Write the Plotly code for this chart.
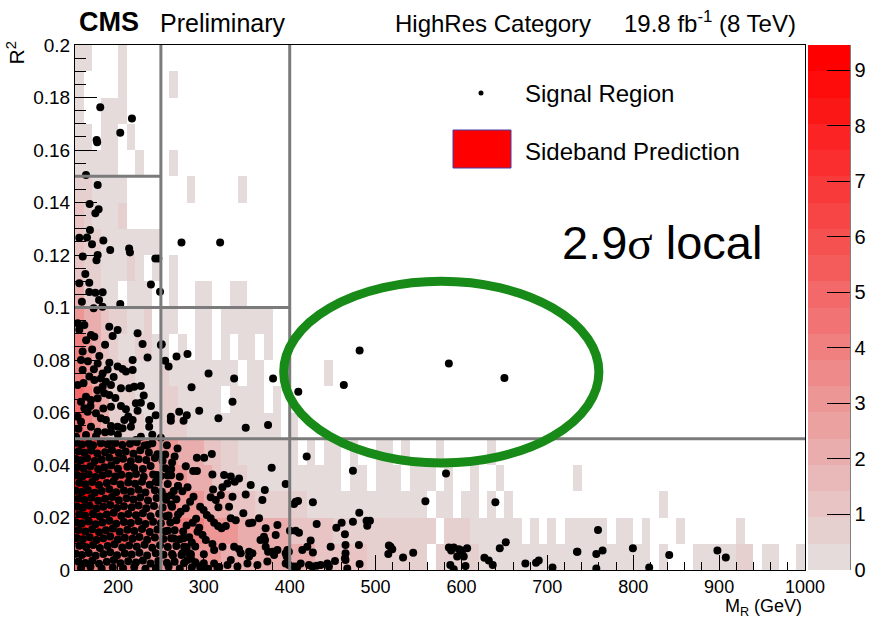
import plotly.graph_objects as go

# ---------------- data ----------------
mr_bin_edges = list(range(150, 1001, 10))          # GeV, 10 GeV bins
r2_bin_edges = [round(0.01 * k, 2) for k in range(21)]

# Sideband prediction per bin, one string per R2 row (top row 0.19-0.20 first).
# '.' = empty bin, 'a' ~0.3, 'b' ~0.7, digits = bin content
sideband_rows_top_down = [
    "aa...a.... .......... .......... .......... .......... .......... .......... .......... .....",
    "a....a.... .a........",
    "a..aaa....",
    "aa.aa.a...",
    "aaaaa..a.. .a........",
    "bbaaaa.... ...a.....a",
    "1baaab....",
    "1bbaaaaaaa",
    "1bbaaaba.a .a........",
    "2bbaa.aaa. .a..aa..aa",
    "3221bbaab. aa..aa.aaa aaa.......",
    "4321baabba a.a.aa.a.a a.a.......",
    "4321bbbaaa baaaaaaaa. aa..a....a",
    "5432bbbaaa bbaaaaa.aa aa.a......",
    "5432bbbbaa bbbaaaaaaa aaaa.a....",
    "8876655443 3322211bba aaaaaa.a.a a.a..aa.a. ..a.....a.",
    "9887665443 3332221bbb aaaaaaaaaa a.aa.aaa.a aa.a..a..a ........a.",
    "9987765543 4433322211 1bbbbbbaaa aaaaaaaaaa a.aa.aa.a. a......... ........a.",
    "9887766554 4444433332 2222211111 bbbbbbbbbb bb.bbbaaaa aa.a.a.aaa aa.aa.a... a......a.. .....",
    "5544444333 3333333222 2222222211 1111bbbbbb b.bbbbbaaa aaaaaaaaaa aaaaaaa.a. ..aaaaabb. aa..a",
]
level_values = {".": None, "a": 0.3, "b": 0.7, "1": 1.0, "2": 2.0, "3": 3.0, "4": 4.0,
                "5": 5.0, "6": 6.0, "7": 7.0, "8": 8.0, "9": 9.0}

# Signal region events (M_R [GeV], R2)
signal_upper = [
    (179.4, 0.1763), (216.3, 0.172), (202.7, 0.1666), (175.2, 0.1638), (175.8, 0.1630),
    (162.8, 0.1505), (176.4, 0.1467), (167, 0.1394), (177.5, 0.1374), (173.7, 0.1359),
    (167.4, 0.1295), (155, 0.1266), (164, 0.1267), (169.8, 0.1241), (183, 0.1255),
    (191, 0.1219), (213, 0.1225), (214, 0.121), (159, 0.1194), (176.4, 0.12), (175, 0.118),
    (243.5, 0.1187), (247, 0.1187), (274, 0.1248), (319, 0.1248), (162, 0.1128),
    (155, 0.1092), (166.6, 0.1094), (166.6, 0.1059), (173.7, 0.1056), (182.2, 0.1058),
    (238.4, 0.1088), (249, 0.106), (158, 0.1022), (178, 0.1029), (182, 0.1003),
    (202.7, 0.1013), (171.7, 0.0997),
]
signal_mid_left = [
    (153.1, 0.094), (160.9, 0.0933), (168.6, 0.0895), (172.5, 0.0889), (189.9, 0.0927),
    (199.6, 0.0914), (193.8, 0.0891), (222.9, 0.0902), (228.7, 0.0861), (250, 0.0857),
    (234.5, 0.081), (217.1, 0.08), (205.4, 0.0766), (199.6, 0.0775), (209.3, 0.0756),
    (217.1, 0.0762), (188, 0.0764), (178.3, 0.0815), (158.9, 0.0832), (157, 0.08),
    (158.9, 0.0762), (166.7, 0.0737), (172.5, 0.0724), (180.2, 0.073), (186, 0.0717),
    (182.2, 0.0749), (176.4, 0.0787), (182.2, 0.0698), (191.9, 0.0705), (203.5, 0.0692),
    (213.2, 0.0692), (219, 0.0698), (226.7, 0.0701), (153.1, 0.0705), (162.8, 0.066),
    (157, 0.0641), (168.6, 0.0648), (176.4, 0.0654), (184.1, 0.0673), (189.9, 0.0667),
    (191.9, 0.0622), (203.5, 0.0625), (209.3, 0.0612), (220.9, 0.0635), (222.9, 0.0607),
    (226.7, 0.0637), (238.4, 0.0625), (236.4, 0.0571), (236.4, 0.0546), (217.1, 0.0571),
    (207.4, 0.0571), (199.6, 0.0546), (191.9, 0.0549), (186, 0.0571), (180.2, 0.0578),
    (174.4, 0.0597), (164.7, 0.0603), (160.9, 0.0616), (153.1, 0.0584), (157, 0.0565),
    (168.6, 0.0546), (176.4, 0.0527), (151.2, 0.0508), (162.8, 0.0514), (174.4, 0.051),
    (191.9, 0.0527), (205.4, 0.054), (215.1, 0.0546), (226.7, 0.0508), (220.9, 0.0495),
    (234.5, 0.0476), (191.9, 0.0489), (180.2, 0.0483), (168.6, 0.047),
    (155, 0.0915), (163, 0.0875), (170, 0.084), (185, 0.0858), (165, 0.0795),
    (190, 0.079), (172, 0.0765), (160, 0.0712), (195, 0.0735), (176, 0.0685),
    (168, 0.0625), (183, 0.0615), (197, 0.0655), (154, 0.0538), (185, 0.0525),
    (212, 0.0585), (230, 0.0665), (244, 0.059), (200, 0.0515), (240, 0.0515),
]
signal_mid_right = [
    (251, 0.086), (255, 0.0797), (259, 0.0775), (268.2, 0.0813), (281, 0.0823),
    (305.5, 0.0749), (335.3, 0.073), (380.6, 0.073), (285.7, 0.0696), (333.4, 0.0641),
    (294.6, 0.0607), (271.3, 0.0603), (280.2, 0.059), (261.6, 0.0584), (261.6, 0.0569),
    (276.4, 0.0569), (317, 0.0578), (348.8, 0.0542), (374.8, 0.0552), (250, 0.0504),
]
signal_ellipse = [(481.4, 0.0836), (585.3, 0.0787), (650, 0.0731), (463, 0.0705), (410, 0.0679)]

signal_dense_rows = [
    ([152, 158, 166, 171, 180, 188, 197, 205, 214, 222, 231, 240],
     [.0485, .0478, .0482, .0475, .0488, .0479, .0484, .0476, .0481, .0487, .0474, .0483]),
    ([154, 161, 169, 176, 185, 193, 201, 209, 218, 226, 236, 246, 255],
     [.0452, .0447, .0455, .0444, .0449, .0457, .0446, .0451, .0443, .0456, .0448, .0441, .0440]),
    ([151, 157, 164, 173, 181, 190, 198, 206, 215, 224, 233, 243, 252, 263],
     [.0423, .0418, .0426, .0415, .0421, .0428, .0417, .0424, .0414, .0422, .0419, .0427, .0416, .0410]),
    ([153, 160, 168, 177, 184, 192, 200, 211, 219, 229, 238, 255],
     [.0392, .0387, .0395, .0384, .0391, .0398, .0386, .0393, .0389, .0385, .0396, .0388]),
    ([152, 159, 166, 174, 182, 189, 197, 204, 213, 221, 230, 241, 250, 258, 262],
     [.0362, .0357, .0365, .0354, .0361, .0368, .0356, .0363, .0359, .0366, .0355, .0364, .0358, .0360, .0361]),
    ([155, 162, 170, 178, 187, 195, 203, 212, 220, 228, 237, 247, 258, 270],
     [.0332, .0327, .0335, .0324, .0331, .0338, .0326, .0333, .0329, .0336, .0325, .0334, .0328, .0320]),
    ([151, 158, 165, 173, 181, 190, 198, 207, 215, 224, 232, 243, 251, 265, 275],
     [.0302, .0297, .0305, .0294, .0301, .0308, .0296, .0303, .0299, .0306, .0295, .0304, .0298, .0301, .0300]),
    ([154, 161, 169, 177, 185, 193, 201, 210, 218, 226, 235, 245, 255, 256, 268],
     [.0272, .0267, .0275, .0264, .0271, .0278, .0266, .0273, .0269, .0276, .0265, .0274, .0280, .0268, .0270]),
    ([152, 159, 167, 175, 183, 191, 199, 207, 216, 224, 233, 242, 252, 262, 263],
     [.0242, .0237, .0245, .0234, .0241, .0248, .0236, .0243, .0239, .0246, .0235, .0244, .0238, .0250, .0241]),
    ([155, 162, 171, 179, 187, 195, 204, 212, 221, 229, 238, 248, 256, 259, 270],
     [.0212, .0207, .0215, .0204, .0211, .0218, .0206, .0213, .0209, .0216, .0205, .0214, .0205, .0208, .0211]),
    ([151, 158, 166, 174, 182, 190, 198, 207, 215, 224, 232, 241, 250, 261, 268, 287, 280],
     [.0182, .0177, .0185, .0174, .0181, .0188, .0176, .0183, .0179, .0186, .0175, .0184, .0178, .0181, .0190, .0180, .0170]),
    ([154, 162, 170, 178, 186, 194, 202, 211, 219, 228, 237, 246, 255, 258, 266, 276],
     [.0152, .0147, .0155, .0144, .0151, .0158, .0146, .0153, .0149, .0156, .0145, .0154, .0148, .0150, .0151, .0147]),
    ([152, 159, 167, 175, 183, 191, 200, 208, 217, 225, 234, 243, 253, 262, 265, 272, 283],
     [.0122, .0117, .0125, .0114, .0121, .0128, .0116, .0123, .0119, .0126, .0115, .0124, .0118, .0121, .0120, .0117, .0125]),
    ([155, 163, 171, 179, 188, 196, 205, 213, 222, 231, 240, 249, 258, 268, 280, 290],
     [.0092, .0087, .0095, .0084, .0091, .0098, .0086, .0093, .0089, .0096, .0085, .0094, .0088, .0091, .0087, .0090]),
    ([151, 158, 166, 174, 183, 191, 199, 208, 216, 225, 234, 244, 253, 263, 274, 285, 300],
     [.0062, .0057, .0065, .0054, .0061, .0068, .0056, .0063, .0059, .0066, .0055, .0064, .0058, .0061, .0057, .0060, .0060]),
    ([154, 162, 170, 178, 187, 195, 203, 212, 221, 229, 238, 247, 257, 266, 277, 290, 300],
     [.0032, .0027, .0035, .0024, .0031, .0038, .0026, .0033, .0029, .0036, .0025, .0034, .0028, .0031, .0027, .0030, .0026]),
    ([157, 168, 181, 194, 206, 219, 232, 245, 259, 272, 286, 296, 305, 318],
     [.0008, .0012, .0006, .0010, .0007, .0011, .0005, .0009, .0012, .0006, .0010, .0008, .0005, .0011]),
]

signal_low_mid = [
    (269.4, 0.0463), (291.9, 0.0428), (300.4, 0.0428), (309.3, 0.0442), (379, 0.039),
    (260.8, 0.0366), (287.6, 0.0377), (292, 0.0377), (310, 0.0364), (323.6, 0.0362),
    (331.4, 0.0356), (354.6, 0.0324), (371, 0.0305), (368.2, 0.0267), (395.3, 0.0328),
    (407, 0.026), (419.8, 0.0432), (245.3, 0.0362), (244, 0.0336), (341, 0.0349),
    (336, 0.0336), (327.5, 0.033), (321.7, 0.0315), (310.8, 0.0307), (308, 0.0277),
    (314, 0.0267), (319.8, 0.0286), (333.4, 0.0279), (348.8, 0.0288), (288, 0.0279),
    (284, 0.026), (279, 0.0235), (273, 0.0222), (329.4, 0.0241), (317, 0.0239),
    (295.7, 0.0241), (299.7, 0.0229), (303.5, 0.021), (308, 0.0197), (312, 0.018),
    (316.6, 0.0168), (320.6, 0.0159), (325.6, 0.0168), (346, 0.0216), (364.3, 0.0197),
    (331.4, 0.0197), (337.2, 0.019), (356.6, 0.018), (352.7, 0.0178), (385.7, 0.0171),
    (372, 0.0159), (383.7, 0.0133), (370, 0.0127), (366, 0.0114), (371.3, 0.0114),
    (400.3, 0.015), (407, 0.015), (410.8, 0.0142), (420.5, 0.0089), (414.7, 0.0076),
    (294.6, 0.0161), (292.7, 0.0146), (298.5, 0.0133), (302.3, 0.0114), (321.7, 0.0089),
    (310, 0.0099), (312, 0.0076), (335.3, 0.0089), (341, 0.0079), (343, 0.0064),
    (352.7, 0.007), (356.6, 0.0064), (352.7, 0.0051), (372, 0.0089), (374.8, 0.007),
    (379.8, 0.007), (385.7, 0.0076), (381.8, 0.0057), (397.3, 0.0076), (396.5, 0.0051),
    (395.3, 0.0025), (405, 0.0013), (412.8, 0.0025), (422.4, 0.0019), (281, 0.0038),
    (290.7, 0.0025), (296.5, 0.0013), (312, 0.0025), (327.6, 0.0019), (331.4, 0.0038),
    (339.2, 0.0013), (350.8, 0.0025), (362.4, 0.0019), (374, 0.0032), (316, 0.0006),
    (304.3, 0.0003), (276.4, 0.0121), (277, 0.0089), (275, 0.0064), (283, 0.0064),
    (285, 0.0045), (270, 0.032), (262, 0.0385), (257, 0.0475), (266, 0.0432),
    (279, 0.0395), (272, 0.0355), (281, 0.0315), (262, 0.0285), (291, 0.0195),
    (286, 0.0105), (264, 0.0055),
]
signal_low_right = [
    (473.6, 0.0378), (582, 0.0368), (427, 0.0258), (558, 0.0262), (639.5, 0.0258),
    (481, 0.0218), (460.5, 0.018), (473.6, 0.0184), (489.5, 0.0188), (493.4, 0.0188),
    (490.3, 0.0169), (431.4, 0.0175), (454.3, 0.0161), (464.3, 0.0136), (424.4, 0.0112),
    (427, 0.0067), (447.7, 0.0089), (465, 0.0095), (480.6, 0.0095), (517.4, 0.0089),
    (519.4, 0.0079), (514.8, 0.0061), (532, 0.0048), (543.8, 0.0066), (585.3, 0.0086),
    (591, 0.0086), (588, 0.0074), (597, 0.0079), (600.8, 0.0074), (606.6, 0.0083),
    (595, 0.0051), (602.7, 0.0051), (587, 0.0019), (591, 0.0003), (604.7, 0.0015),
    (626.7, 0.0047), (631.8, 0.0036), (636.4, 0.0019), (644.6, 0.0083), (651.6, 0.0106),
    (674.4, 0.0025), (686.8, 0.0028), (690, 0.0036), (706, 0.001), (734.5, 0.007),
    (399, 0.0019), (426.4, 0.0013), (431.4, 0.0016), (443.8, 0.0025), (452.7, 0.0034),
    (467, 0.0006), (445.7, 0.0013), (465, 0.0038), (481.4, 0.0023), (409, 0.0013),
    (436, 0.0019), (395.3, 0.0064), (399, 0.007), (465, 0.0064), (464.3, 0.0045),
    (515.5, 0.0093), (409.7, 0.0263), (405, 0.0251),
    (759, 0.0152), (735, 0.007), (757, 0.0061), (764.3, 0.0074), (799.6, 0.0083),
    (757, 0.0006), (818.6, 0.001), (841.9, 0.0057), (898, 0.0074), (907.8, 0.0048),
]

# Analysis box boundaries: (x0, x1, y0, y1)
box_edges = [(250, 250, 0.0, 0.2), (400, 400, 0.0, 0.2),
             (150, 250, 0.15, 0.15), (150, 400, 0.10, 0.10), (150, 1000, 0.05, 0.05)]
# highlighted excess region (M_R range, R2 range)
excess_mr = (393, 760)
excess_r2 = (0.0408, 0.110)

x_tick_vals = [200, 300, 400, 500, 600, 700, 800, 900, 1000]
y_tick_vals = [0, 0.02, 0.04, 0.06, 0.08, 0.1, 0.12, 0.14, 0.16, 0.18, 0.2]
y_tick_text = ["0", "0.02", "0.04", "0.06", "0.08", "0.1", "0.12", "0.14", "0.16", "0.18", "0.2"]
z_max = 9.45
cbar_ticks = list(range(10))

# ---------------- build ----------------
nx = len(mr_bin_edges) - 1
z = []
for row in reversed(sideband_rows_top_down):
    s = row.replace(" ", "").ljust(nx, ".")[:nx]
    z.append([level_values[c] for c in s])

sig_mr, sig_r2 = [], []
for pts in (signal_upper, signal_mid_left, signal_mid_right, signal_ellipse,
            signal_low_mid, signal_low_right):
    for m, r in pts:
        sig_mr.append(m)
        sig_r2.append(r)
for ms, rs in signal_dense_rows:
    sig_mr.extend(ms)
    sig_r2.extend(rs)

# stepped ROOT-like palette (light grey-pink -> red)
n_steps = 20
c0, c1 = (229, 219, 219), (255, 0, 0)
colorscale = []
for k in range(n_steps):
    t = k / (n_steps - 1)
    col = "rgb(%d,%d,%d)" % tuple(round(c0[i] + (c1[i] - c0[i]) * t) for i in range(3))
    colorscale.append([k / n_steps, col])
    colorscale.append([(k + 1) / n_steps, col])

W, H = 874, 618
L, R, T, B = 75, 69, 45, 48
PW, PH = W - L - R, H - T - B


def px_x(px):
    return (px - L) / PW


def px_y(py):
    return (H - B - py) / PH


fig = go.Figure()
fig.add_trace(go.Heatmap(
    x=mr_bin_edges, y=r2_bin_edges, z=z, zmin=0, zmax=z_max,
    colorscale=colorscale, hoverinfo="skip",
    colorbar=dict(x=px_x(808), xanchor="left", y=0, yanchor="bottom", len=1,
                  lenmode="fraction", thickness=42, thicknessmode="pixels",
                  xpad=0, ypad=0, outlinewidth=0, tickvals=cbar_ticks,
                  ticks="inside", ticklen=23, tickcolor="black", tickwidth=1,
                  tickfont=dict(size=20, family="Liberation Sans", color="black")),
))
fig.add_trace(go.Scatter(x=sig_mr, y=sig_r2, mode="markers",
                         marker=dict(color="black", size=8, symbol="circle"),
                         hoverinfo="skip"))

shapes = []
for x0, x1, y0, y1 in box_edges:
    shapes.append(dict(type="line", xref="x", yref="y", x0=x0, x1=x1, y0=y0, y1=y1,
                       line=dict(color="#7b7b7b", width=3), layer="above"))
shapes.append(dict(type="circle", xref="x", yref="y", x0=excess_mr[0], x1=excess_mr[1],
                   y0=excess_r2[0], y1=excess_r2[1],
                   line=dict(color="#178a17", width=9), layer="above"))
# colorbar right edge axis line
shapes.append(dict(type="line", xref="paper", yref="paper", x0=px_x(850), x1=px_x(850),
                   y0=0, y1=1, line=dict(color="black", width=1)))
# legend symbols
shapes.append(dict(type="circle", xref="paper", yref="paper",
                   x0=px_x(478.5), x1=px_x(483.5), y0=px_y(95.5), y1=px_y(90.5),
                   fillcolor="black", line=dict(color="black", width=0)))
shapes.append(dict(type="rect", xref="paper", yref="paper",
                   x0=px_x(453), x1=px_x(511), y0=px_y(168), y1=px_y(130),
                   fillcolor="#ff0000", line=dict(color="#4a3ca8", width=1)))

F = "Liberation Sans"
ann = [
    dict(text="<b>CMS</b>", x=px_x(77), y=px_y(22), xanchor="left", yanchor="middle",
         font=dict(size=27, family=F)),
    dict(text="Preliminary", x=px_x(158), y=px_y(23), xanchor="left", yanchor="middle",
         font=dict(size=25, family=F)),
    dict(text="HighRes Category", x=px_x(393), y=px_y(23), xanchor="left", yanchor="middle",
         font=dict(size=24, family=F)),
    dict(text="19.8 fb<sup>-1</sup> (8 TeV)", x=px_x(798), y=px_y(22), xanchor="right",
         yanchor="middle", font=dict(size=24, family=F)),
    dict(text="Signal Region", x=px_x(523), y=px_y(93), xanchor="left", yanchor="middle",
         font=dict(size=24, family=F)),
    dict(text="Sideband Prediction", x=px_x(523), y=px_y(151), xanchor="left",
         yanchor="middle", font=dict(size=24, family=F)),
    dict(text="2.9<span style='font-family:Liberation Serif'>σ</span> local",
         x=px_x(560), y=px_y(243), xanchor="left", yanchor="middle",
         font=dict(size=47, family=F)),
    dict(text="R<sup>2</sup>", x=px_x(15), y=px_y(40), xanchor="center", yanchor="top",
         textangle=-90, font=dict(size=21, family=F)),
    dict(text="M<sub>R</sub> (GeV)", x=px_x(804), y=0, yshift=-24, xanchor="right",
         yanchor="top", font=dict(size=18, family=F)),
]
for a in ann:
    a.update(xref="paper", yref="paper", showarrow=False)

fig.update_layout(
    width=W, height=H, margin=dict(l=L, r=R, t=T, b=B, autoexpand=False),
    plot_bgcolor="white", paper_bgcolor="white", showlegend=False,
    font=dict(family=F, color="black"),
    shapes=shapes, annotations=ann,
    xaxis=dict(range=[150, 1000], tickvals=x_tick_vals, ticks="inside", ticklen=15,
               tickcolor="black", tickwidth=1, showline=True, linecolor="black",
               linewidth=1, mirror=True, showgrid=False, zeroline=False,
               tickfont=dict(size=18, family=F),
               minor=dict(dtick=20, tick0=0, ticks="inside", ticklen=8,
                          tickcolor="black", showgrid=False)),
    yaxis=dict(range=[0, 0.2], tickvals=y_tick_vals, ticktext=y_tick_text,
               ticks="inside", ticklen=22, tickcolor="black", tickwidth=1,
               showline=True, linecolor="black", linewidth=1, mirror=True,
               showgrid=False, zeroline=False, tickfont=dict(size=19, family=F),
               minor=dict(dtick=0.005, tick0=0, ticks="inside", ticklen=11,
                          tickcolor="black", showgrid=False)),
)

fig.write_html("out.html")
